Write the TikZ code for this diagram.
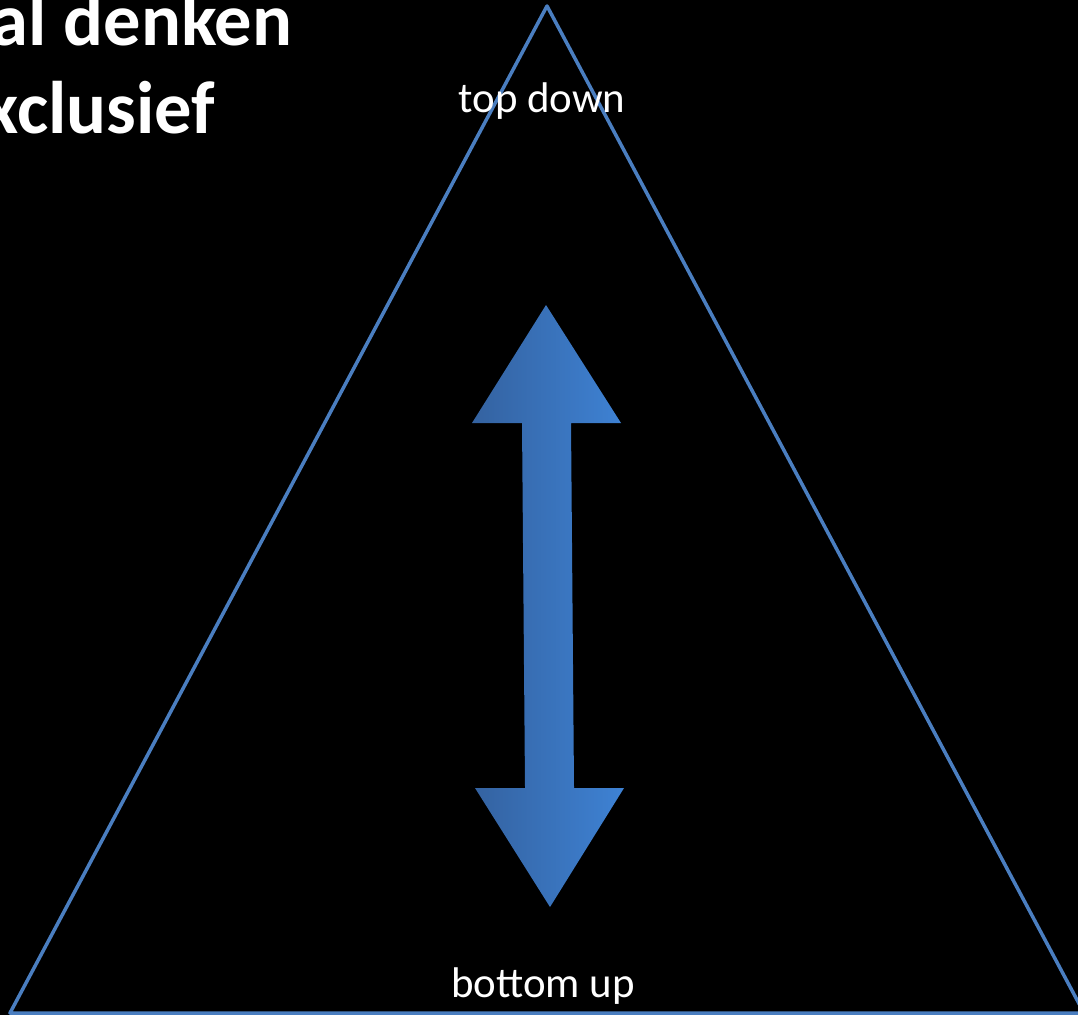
\documentclass[tikz,border=0pt]{standalone}
\usepackage{fontspec}
\setmainfont{Carlito}
\definecolor{edgeblue}{RGB}{74,126,192}
\definecolor{arrowdark}{RGB}{52,98,160}
\definecolor{arrowlight}{RGB}{62,130,212}
\begin{document}
\begin{tikzpicture}[
    label/.style={text=white, font=\fontsize{12.2}{14}\selectfont, inner sep=0pt},
    heading/.style={text=white, font=\fontsize{21.2}{25}\selectfont\bfseries, inner sep=0pt}
  ]
  \useasboundingbox (0, 0) rectangle (10.78, 10.15);
  \clip (0, 0) rectangle (10.78, 10.15);
  \fill[black] (0, 0) rectangle (10.78, 10.15);

  % Title, cut at the left edge
  \node[heading, anchor=base east] (title1) at (2.93, 9.70) {al denken};
  \node[heading, anchor=base east] (title2) at (2.16, 8.82) {xclusief};

  % Triangle
  \coordinate (apex) at (5.47, 10.09);
  \coordinate (left) at (0.10, 0.02);
  \coordinate (right) at (10.84, 0.02);
  \draw[edgeblue, line width=1pt, line join=round] (apex) -- (left) -- (right) -- cycle;

  % Double arrow
  \fill[left color=arrowdark, right color=arrowlight]
    (5.46, 7.10) -- (6.21, 5.92) -- (5.71, 5.92) -- (5.74, 2.27) -- (6.24, 2.27)
    -- (5.50, 1.08) -- (4.75, 2.27) -- (5.25, 2.27) -- (5.22, 5.92) -- (4.72, 5.92) -- cycle;

  % Labels
  \node[label, anchor=base] (top) at (5.42, 9.03) {top down};
  \node[label, anchor=base] (bottom) at (5.43, 0.18) {bottom up};
\end{tikzpicture}
\end{document}
